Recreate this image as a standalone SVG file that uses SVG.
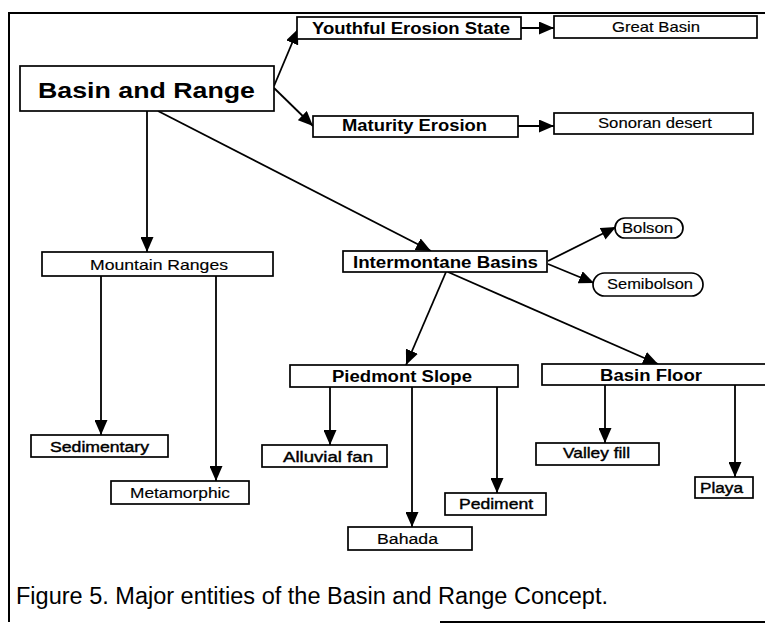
<svg xmlns="http://www.w3.org/2000/svg" width="765" height="627" viewBox="0 0 765 627">
  <defs>
    <marker id="arrow" viewBox="0 0 15 13" refX="15" refY="6.5" markerWidth="15" markerHeight="13" orient="auto" markerUnits="userSpaceOnUse">
      <path d="M0,0 L15,6.5 L0,13 z" fill="#000"/>
    </marker>
    <style>
      .box { fill: #fff; stroke: #000; stroke-width: 1.7; }
      .edge { fill: none; stroke: #000; stroke-width: 1.8; marker-end: url(#arrow); }
      .frame { fill: none; stroke: #000; stroke-width: 2; }
      text { font-family: "Liberation Sans", Arial, sans-serif; fill: #000; }
      .b { font-weight: bold; }
      .n { font-weight: normal; stroke: #000; stroke-width: 0.15; }
      .m { font-weight: normal; stroke: #000; stroke-width: 0.4; }
      .cap { font-weight: normal; }
    </style>
  </defs>

  <rect width="765" height="627" fill="#fff"/>

  <!-- figure frame -->
  <g id="frame">
    <path class="frame" d="M9,622 L9,13 L765,13"/>
    <path class="frame" d="M440,622 L765,622"/>
  </g>

  <!-- connectors -->
  <g id="connectors">
    <path class="edge" d="M274,86 L298,29"/>
    <path class="edge" d="M274,88 L313,126"/>
    <path class="edge" d="M521,28 L554,28"/>
    <path class="edge" d="M518,126 L554,126"/>
    <path class="edge" d="M147,111 L147,252"/>
    <path class="edge" d="M158,111 L431,251"/>
    <path class="edge" d="M548,261 L616,227"/>
    <path class="edge" d="M548,264 L594,283"/>
    <path class="edge" d="M446,272 L406,365"/>
    <path class="edge" d="M448,272 L658,364"/>
    <path class="edge" d="M101,276 L101,435"/>
    <path class="edge" d="M216,276 L216,481"/>
    <path class="edge" d="M330,387 L330,445"/>
    <path class="edge" d="M412,387 L412,527"/>
    <path class="edge" d="M497,387 L497,493"/>
    <path class="edge" d="M605,385 L605,443"/>
    <path class="edge" d="M735,385 L735,477"/>
  </g>

  <!-- nodes -->
  <g id="basin-and-range">
    <rect class="box" x="20" y="66" width="254" height="45"/>
    <text class="b" x="38" y="98" font-size="22" textLength="217" lengthAdjust="spacingAndGlyphs">Basin and Range</text>
  </g>
  <g id="youthful-erosion">
    <rect class="box" x="297" y="17" width="224" height="22"/>
    <text class="b" x="312" y="34" font-size="16" textLength="198" lengthAdjust="spacingAndGlyphs">Youthful Erosion State</text>
  </g>
  <g id="great-basin">
    <rect class="box" x="554" y="16" width="203" height="22"/>
    <text class="n" x="612" y="32" font-size="15" textLength="88" lengthAdjust="spacingAndGlyphs">Great Basin</text>
  </g>
  <g id="maturity-erosion">
    <rect class="box" x="313" y="116" width="205" height="21"/>
    <text class="b" x="342" y="131" font-size="16" textLength="145" lengthAdjust="spacingAndGlyphs">Maturity Erosion</text>
  </g>
  <g id="sonoran-desert">
    <rect class="box" x="554" y="113" width="199" height="21"/>
    <text class="n" x="598" y="128" font-size="15" textLength="114" lengthAdjust="spacingAndGlyphs">Sonoran desert</text>
  </g>
  <g id="mountain-ranges">
    <rect class="box" x="42" y="252" width="231" height="24"/>
    <text class="n" x="90" y="270" font-size="15" textLength="138" lengthAdjust="spacingAndGlyphs">Mountain Ranges</text>
  </g>
  <g id="intermontane-basins">
    <rect class="box" x="343" y="251" width="204" height="21"/>
    <text class="b" x="353" y="268" font-size="16" textLength="185" lengthAdjust="spacingAndGlyphs">Intermontane Basins</text>
  </g>
  <g id="bolson">
    <rect class="box" x="615" y="218" width="68" height="20" rx="10"/>
    <text class="n" x="622" y="233" font-size="14" textLength="51" lengthAdjust="spacingAndGlyphs">Bolson</text>
  </g>
  <g id="semibolson">
    <rect class="box" x="593" y="273" width="110" height="23" rx="11.5"/>
    <text class="n" x="607" y="289" font-size="15" textLength="86" lengthAdjust="spacingAndGlyphs">Semibolson</text>
  </g>
  <g id="piedmont-slope">
    <rect class="box" x="290" y="365" width="228" height="22"/>
    <text class="b" x="332" y="382" font-size="16" textLength="140" lengthAdjust="spacingAndGlyphs">Piedmont Slope</text>
  </g>
  <g id="basin-floor">
    <rect class="box" x="542" y="364" width="230" height="21"/>
    <text class="b" x="600" y="381" font-size="16" textLength="102" lengthAdjust="spacingAndGlyphs">Basin Floor</text>
  </g>
  <g id="sedimentary">
    <rect class="box" x="31" y="435" width="137" height="22"/>
    <text class="m" x="50" y="452" font-size="14" textLength="99" lengthAdjust="spacingAndGlyphs">Sedimentary</text>
  </g>
  <g id="metamorphic">
    <rect class="box" x="111" y="481" width="138" height="23"/>
    <text class="n" x="130" y="498" font-size="15" textLength="100" lengthAdjust="spacingAndGlyphs">Metamorphic</text>
  </g>
  <g id="alluvial-fan">
    <rect class="box" x="262" y="445" width="125" height="22"/>
    <text class="m" x="283" y="462" font-size="15" textLength="90" lengthAdjust="spacingAndGlyphs">Alluvial fan</text>
  </g>
  <g id="bahada">
    <rect class="box" x="348" y="527" width="124" height="23"/>
    <text class="n" x="377" y="544" font-size="14" textLength="61" lengthAdjust="spacingAndGlyphs">Bahada</text>
  </g>
  <g id="pediment">
    <rect class="box" x="445" y="493" width="101" height="22"/>
    <text class="m" x="459" y="509" font-size="15" textLength="74" lengthAdjust="spacingAndGlyphs">Pediment</text>
  </g>
  <g id="valley-fill">
    <rect class="box" x="536" y="443" width="123" height="22"/>
    <text class="m" x="563" y="458" font-size="15" textLength="67" lengthAdjust="spacingAndGlyphs">Valley fill</text>
  </g>
  <g id="playa">
    <rect class="box" x="695" y="477" width="58" height="21"/>
    <text class="m" x="700" y="493" font-size="15" textLength="43" lengthAdjust="spacingAndGlyphs">Playa</text>
  </g>

  <!-- caption -->
  <text id="caption" class="cap" x="16" y="604" font-size="23" textLength="592" lengthAdjust="spacingAndGlyphs">Figure 5. Major entities of the Basin and Range Concept.</text>
</svg>
